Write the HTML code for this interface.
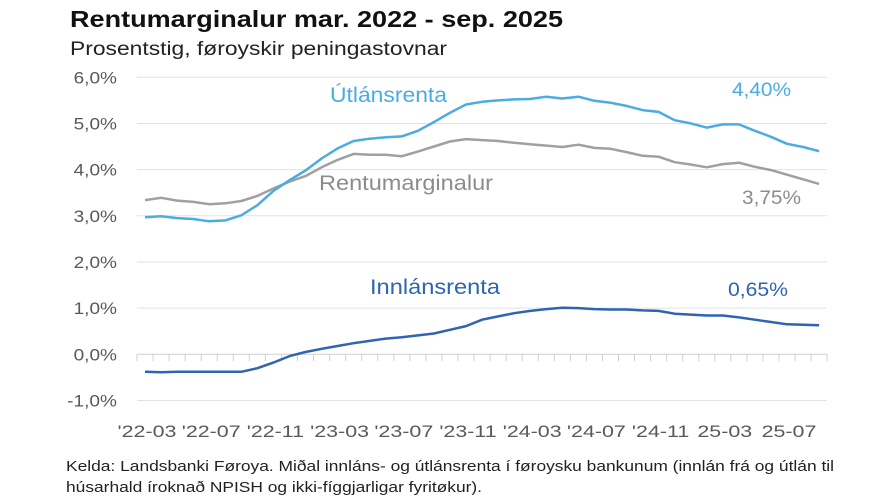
<!DOCTYPE html>
<html><head><meta charset="utf-8"><style>
html,body{margin:0;padding:0;background:#fff;}
svg{display:block;font-family:"Liberation Sans",sans-serif;}
</style></head><body>
<svg id="s" width="890" height="503" viewBox="0 0 890 503" xmlns="http://www.w3.org/2000/svg">
<text x="70" y="27" font-size="23" font-weight="bold" fill="#111" textLength="493" lengthAdjust="spacingAndGlyphs">Rentumarginalur mar. 2022 - sep. 2025</text>
<text x="70" y="55" font-size="19" fill="#222" textLength="377" lengthAdjust="spacingAndGlyphs">Prosentstig, føroyskir peningastovnar</text>
<g id="grid"></g>
<g id="lines"></g>
<text x="330" y="102" font-size="21" fill="#4BACE0" textLength="117" lengthAdjust="spacingAndGlyphs">Útlánsrenta</text>
<text x="319" y="190" font-size="21" fill="#8C8C8C" textLength="174" lengthAdjust="spacingAndGlyphs">Rentumarginalur</text>
<text x="370" y="294" font-size="21" fill="#2E64B0" textLength="130" lengthAdjust="spacingAndGlyphs">Innlánsrenta</text>
<text x="732" y="96" font-size="19" fill="#4BACE0" textLength="59" lengthAdjust="spacingAndGlyphs">4,40%</text>
<text x="742" y="204" font-size="19" fill="#8C8C8C" textLength="59" lengthAdjust="spacingAndGlyphs">3,75%</text>
<text x="728" y="296" font-size="19" fill="#2E64B0" textLength="60" lengthAdjust="spacingAndGlyphs">0,65%</text>
<text x="66" y="471" font-size="15" fill="#222" textLength="768" lengthAdjust="spacingAndGlyphs">Kelda: Landsbanki Føroya. Miðal innláns- og útlánsrenta í føroysku bankunum (innlán frá og útlán til</text>
<text x="66" y="492" font-size="15" fill="#222" textLength="416" lengthAdjust="spacingAndGlyphs">húsarhald íroknað NPISH og ikki-fíggjarligar fyritøkur).</text>
</svg>
<script>
var ns="http://www.w3.org/2000/svg";
function el(p,t,a,txt){var e=document.createElementNS(ns,t);for(var k in a)e.setAttribute(k,a[k]);if(txt)e.textContent=txt;p.appendChild(e);return e;}
function Y(v){return 354.3-46.17*v;}
function X(i){return 145+16.05*i;}
var g=document.getElementById('grid');
for(var v=-1;v<=6;v++){
 var t=el(g,'text',{x:117,y:Y(v)+6,'font-size':17,fill:'#595959','text-anchor':'end'},(v<0?'-':'')+Math.abs(v)+',0%');
 var w=t.getComputedTextLength();t.setAttribute('textLength',(w*1.12).toFixed(1));t.setAttribute('lengthAdjust','spacingAndGlyphs');
 el(g,'line',{x1:137,x2:827,y1:Y(v),y2:Y(v),stroke:v==0?'#d0d0d0':'#e2e2e2','stroke-width':1});
}
for(var k=0;k<=43;k++){var x=137+16.05*k;el(g,'line',{x1:x,x2:x,y1:Y(0),y2:Y(0)+7,stroke:'#d0d0d0','stroke-width':1});}
var labs=["'22-03","'22-07","'22-11","'23-03","'23-07","'23-11","'24-03","'24-07","'24-11","25-03","25-07"];
labs.forEach(function(l,j){var t=el(g,'text',{x:X(j*4)+2,y:437,'font-size':17,fill:'#595959','text-anchor':'middle'},l);
 var w=t.getComputedTextLength();t.setAttribute('textLength',(w*1.26).toFixed(1));t.setAttribute('lengthAdjust','spacingAndGlyphs');});
var ut=[2.97,2.99,2.95,2.93,2.88,2.90,3.01,3.23,3.54,3.77,3.98,4.24,4.46,4.62,4.67,4.70,4.72,4.84,5.03,5.23,5.41,5.47,5.50,5.52,5.53,5.58,5.54,5.58,5.49,5.45,5.38,5.29,5.25,5.07,5.00,4.91,4.98,4.98,4.84,4.71,4.56,4.49,4.40];
var rm=[3.34,3.39,3.33,3.30,3.25,3.27,3.32,3.43,3.59,3.74,3.86,4.05,4.21,4.34,4.32,4.32,4.29,4.39,4.50,4.61,4.66,4.64,4.62,4.58,4.55,4.52,4.49,4.54,4.47,4.45,4.38,4.30,4.28,4.16,4.11,4.05,4.12,4.15,4.06,3.99,3.89,3.79,3.69];
var inn=[-0.38,-0.39,-0.38,-0.38,-0.38,-0.38,-0.38,-0.30,-0.18,-0.04,0.05,0.12,0.18,0.24,0.29,0.34,0.37,0.41,0.45,0.53,0.61,0.75,0.82,0.89,0.94,0.98,1.01,1.00,0.98,0.97,0.97,0.95,0.94,0.88,0.86,0.84,0.84,0.80,0.75,0.70,0.65,0.64,0.63];
var L=document.getElementById('lines');
[[rm,'#A0A0A0'],[ut,'#4BACE0'],[inn,'#2E64B0']].forEach(function(s){
 el(L,'polyline',{points:s[0].map(function(v,i){return X(i).toFixed(1)+','+Y(v).toFixed(1);}).join(' '),fill:'none',stroke:s[1],'stroke-width':2.5,'stroke-linejoin':'round'});
});
</script>
</body></html>
